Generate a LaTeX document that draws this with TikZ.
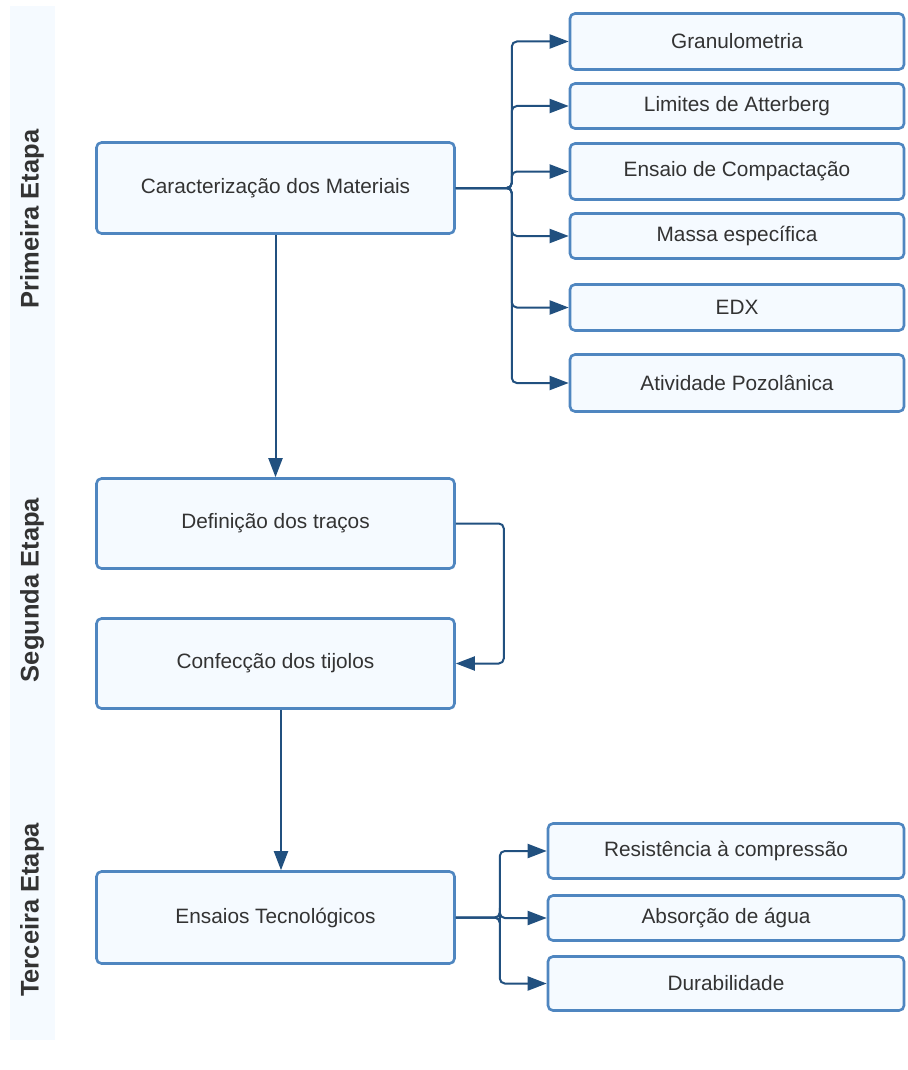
\documentclass[tikz,border=0pt]{standalone}
\usepackage{fontspec}
\setmainfont{Liberation Sans}
\usepackage{tikz}
\usetikzlibrary{positioning, arrows.meta, calc}

\definecolor{boxline}{HTML}{4F86C0}
\definecolor{boxfill}{HTML}{F5FAFF}
\definecolor{arrowblue}{HTML}{21507F}
\definecolor{textgray}{HTML}{333333}
\definecolor{bandfill}{HTML}{F5FAFF}

\tikzset{
  etapabox/.style={draw=boxline, fill=boxfill, line width=2.6pt, rounded corners=5pt, rectangle, inner sep=0pt,
    text=textgray, font=\fontsize{20.8}{24}\selectfont},
  fluxo/.style={-{Triangle[length=19pt, width=14pt]}, draw=arrowblue, line width=2pt, rounded corners=5pt},
  rotulo/.style={rotate=90, text=textgray, font=\fontsize{25.5}{30}\selectfont\bfseries}
}

\begin{document}
\begin{tikzpicture}[x=1pt, y=-1pt]
\useasboundingbox (0,0) rectangle (907,1070);

% faixa lateral das etapas
\fill[bandfill] (10,6) rectangle (55,1040);
\node[rotulo] (rot1) at (32,219) {Primeira Etapa};
\node[rotulo] (rot2) at (32,590) {Segunda Etapa};
\node[rotulo] (rot3) at (32,910) {Terceira Etapa};

% primeira etapa
\node[etapabox, minimum width=358pt, minimum height=91pt] (caract) at (275.5,188) {Caracterização dos Materiais};
\node[etapabox, minimum width=334pt, minimum height=56pt] (granul) at (737,41.5) {Granulometria};
\node[etapabox, minimum width=334pt, minimum height=45pt] (limites) at (737,106) {Limites de Atterberg};
\node[etapabox, minimum width=334pt, minimum height=56pt] (compact) at (737,171.5) {Ensaio de Compactação};
\node[etapabox, minimum width=334pt, minimum height=45pt] (massa) at (737,236) {Massa específica};
\node[etapabox, minimum width=334pt, minimum height=46pt] (edx) at (737,307.5) {EDX};
\node[etapabox, minimum width=334pt, minimum height=57pt] (pozol) at (737,383) {Atividade Pozolânica};

% segunda etapa
\node[etapabox, minimum width=358pt, minimum height=90pt] (tracos) at (275.5,523.5) {Definição dos traços};
\node[etapabox, minimum width=358pt, minimum height=90pt] (tijolos) at (275.5,663.5) {Confecção dos tijolos};

% terceira etapa
\node[etapabox, minimum width=358pt, minimum height=92pt] (ensaios) at (275.5,917.5) {Ensaios Tecnológicos};
\node[etapabox, minimum width=356pt, minimum height=55pt] (resist) at (726,851) {Resistência à compressão};
\node[etapabox, minimum width=356pt, minimum height=45pt] (absorc) at (726,918) {Absorção de água};
\node[etapabox, minimum width=356pt, minimum height=54pt] (durab) at (726,983.5) {Durabilidade};

% conexoes
\foreach \alvo in {granul, limites, compact, massa, edx, pozol}
  \draw[fluxo] (caract.east) -- ++(56,0) |- (\alvo.west);
\draw[fluxo] (caract.south) -- (tracos.north);
\draw[fluxo] (tracos.east) -- ++(48,0) |- (tijolos.east);
\draw[fluxo] ([xshift=5.5pt]tijolos.south) -- ([xshift=5.5pt]ensaios.north);
\foreach \alvo in {resist, absorc, durab}
  \draw[fluxo] (ensaios.east) -- ++(44,0) |- (\alvo.west);
\end{tikzpicture}
\end{document}
